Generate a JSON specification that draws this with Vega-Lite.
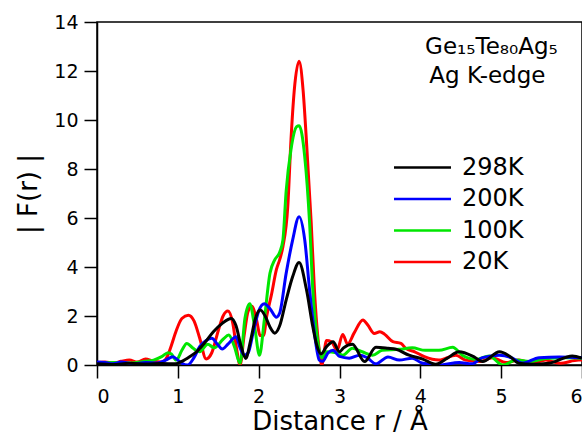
{
  "$schema": "https://vega.github.io/schema/vega-lite/v6.json",
  "autosize": {"type": "none"},
  "padding": {"left": 97, "top": 22, "right": 0, "bottom": 69},
  "width": 485,
  "height": 343,
  "background": "white",
  "config": {
    "font": "DejaVu Sans",
    "view": {"stroke": "black", "strokeWidth": 1.5},
    "axis": {"grid": false, "domainColor": "black", "domainWidth": 1.5, "tickColor": "black", "tickWidth": 1.5, "tickSize": 13, "labelColor": "black", "labelFontSize": 19, "labelFont": "DejaVu Sans", "titleFont": "DejaVu Sans", "titleFontSize": 26, "titleFontWeight": "normal", "titleColor": "black"},
    "legend": {"padding": 0}
  },
  "datasets": {
    "curves": [
      {"T":"20K","r":0.0,"v":0.1},{"T":"20K","r":0.1,"v":0.12},{"T":"20K","r":0.2,"v":0.08},{"T":"20K","r":0.3,"v":0.15},{"T":"20K","r":0.4,"v":0.2},{"T":"20K","r":0.5,"v":0.12},{"T":"20K","r":0.6,"v":0.25},{"T":"20K","r":0.7,"v":0.15},{"T":"20K","r":0.8,"v":0.12},{"T":"20K","r":0.87,"v":0.35},{"T":"20K","r":0.92,"v":0.8},{"T":"20K","r":0.98,"v":1.4},{"T":"20K","r":1.05,"v":1.9},{"T":"20K","r":1.13,"v":2.03},{"T":"20K","r":1.2,"v":1.8},{"T":"20K","r":1.27,"v":1.1},{"T":"20K","r":1.35,"v":0.25},{"T":"20K","r":1.42,"v":0.5},{"T":"20K","r":1.5,"v":1.4},{"T":"20K","r":1.56,"v":2.0},{"T":"20K","r":1.62,"v":2.2},{"T":"20K","r":1.68,"v":1.7},{"T":"20K","r":1.73,"v":0.6},{"T":"20K","r":1.77,"v":0.0},{"T":"20K","r":1.82,"v":1.2},{"T":"20K","r":1.87,"v":2.2},{"T":"20K","r":1.92,"v":2.4},{"T":"20K","r":1.97,"v":1.9},{"T":"20K","r":2.02,"v":1.2},{"T":"20K","r":2.06,"v":1.2},{"T":"20K","r":2.1,"v":2.0},{"T":"20K","r":2.16,"v":2.9},{"T":"20K","r":2.22,"v":3.9},{"T":"20K","r":2.26,"v":4.3},{"T":"20K","r":2.3,"v":4.83},{"T":"20K","r":2.36,"v":6.46},{"T":"20K","r":2.4,"v":9.2},{"T":"20K","r":2.44,"v":11.2},{"T":"20K","r":2.5,"v":12.4},{"T":"20K","r":2.55,"v":11.2},{"T":"20K","r":2.59,"v":9.2},{"T":"20K","r":2.65,"v":5.8},{"T":"20K","r":2.69,"v":3.06},{"T":"20K","r":2.75,"v":0.6},{"T":"20K","r":2.78,"v":0.0},{"T":"20K","r":2.84,"v":1.0},{"T":"20K","r":2.9,"v":0.95},{"T":"20K","r":2.97,"v":0.6},{"T":"20K","r":3.04,"v":1.25},{"T":"20K","r":3.1,"v":0.85},{"T":"20K","r":3.18,"v":1.3},{"T":"20K","r":3.29,"v":1.84},{"T":"20K","r":3.35,"v":1.63},{"T":"20K","r":3.43,"v":1.29},{"T":"20K","r":3.5,"v":1.36},{"T":"20K","r":3.56,"v":1.25},{"T":"20K","r":3.66,"v":0.95},{"T":"20K","r":3.76,"v":0.88},{"T":"20K","r":3.82,"v":0.68},{"T":"20K","r":3.93,"v":0.54},{"T":"20K","r":4.05,"v":0.34},{"T":"20K","r":4.23,"v":0.2},{"T":"20K","r":4.44,"v":0.4},{"T":"20K","r":4.56,"v":0.2},{"T":"20K","r":4.74,"v":0.14},{"T":"20K","r":4.89,"v":0.3},{"T":"20K","r":5.06,"v":0.1},{"T":"20K","r":5.22,"v":0.2},{"T":"20K","r":5.39,"v":0.07},{"T":"20K","r":5.55,"v":0.2},{"T":"20K","r":5.72,"v":0.07},{"T":"20K","r":5.96,"v":0.2},{"T":"20K","r":6.0,"v":0.2},

      {"T":"100K","r":0.0,"v":0.05},{"T":"100K","r":0.2,"v":0.1},{"T":"100K","r":0.4,"v":0.08},{"T":"100K","r":0.6,"v":0.15},{"T":"100K","r":0.7,"v":0.2},{"T":"100K","r":0.8,"v":0.34},{"T":"100K","r":0.88,"v":0.5},{"T":"100K","r":0.92,"v":0.45},{"T":"100K","r":0.98,"v":0.2},{"T":"100K","r":1.05,"v":0.6},{"T":"100K","r":1.11,"v":0.88},{"T":"100K","r":1.19,"v":0.68},{"T":"100K","r":1.27,"v":0.54},{"T":"100K","r":1.37,"v":0.85},{"T":"100K","r":1.45,"v":0.7},{"T":"100K","r":1.56,"v":1.05},{"T":"100K","r":1.63,"v":1.22},{"T":"100K","r":1.7,"v":0.75},{"T":"100K","r":1.77,"v":0.07},{"T":"100K","r":1.83,"v":1.9},{"T":"100K","r":1.89,"v":2.5},{"T":"100K","r":1.95,"v":1.56},{"T":"100K","r":2.01,"v":0.4},{"T":"100K","r":2.07,"v":1.84},{"T":"100K","r":2.14,"v":3.75},{"T":"100K","r":2.2,"v":4.3},{"T":"100K","r":2.26,"v":4.6},{"T":"100K","r":2.3,"v":5.1},{"T":"100K","r":2.34,"v":7.1},{"T":"100K","r":2.4,"v":8.8},{"T":"100K","r":2.47,"v":9.73},{"T":"100K","r":2.5,"v":9.77},{"T":"100K","r":2.57,"v":8.5},{"T":"100K","r":2.63,"v":5.8},{"T":"100K","r":2.67,"v":3.06},{"T":"100K","r":2.73,"v":1.0},{"T":"100K","r":2.78,"v":0.3},{"T":"100K","r":2.84,"v":0.54},{"T":"100K","r":2.96,"v":0.5},{"T":"100K","r":3.04,"v":0.4},{"T":"100K","r":3.16,"v":0.68},{"T":"100K","r":3.28,"v":0.54},{"T":"100K","r":3.41,"v":0.4},{"T":"100K","r":3.53,"v":0.6},{"T":"100K","r":3.74,"v":0.64},{"T":"100K","r":3.9,"v":0.7},{"T":"100K","r":4.06,"v":0.6},{"T":"100K","r":4.23,"v":0.6},{"T":"100K","r":4.4,"v":0.72},{"T":"100K","r":4.52,"v":0.4},{"T":"100K","r":4.69,"v":0.23},{"T":"100K","r":4.85,"v":0.37},{"T":"100K","r":5.02,"v":0.0},{"T":"100K","r":5.19,"v":0.2},{"T":"100K","r":5.35,"v":0.14},{"T":"100K","r":5.55,"v":0.27},{"T":"100K","r":5.8,"v":0.3},{"T":"100K","r":6.0,"v":0.28},

      {"T":"200K","r":0.0,"v":0.12},{"T":"200K","r":0.1,"v":0.1},{"T":"200K","r":0.2,"v":0.05},{"T":"200K","r":0.3,"v":0.12},{"T":"200K","r":0.45,"v":0.05},{"T":"200K","r":0.6,"v":0.1},{"T":"200K","r":0.75,"v":0.08},{"T":"200K","r":0.85,"v":0.2},{"T":"200K","r":0.94,"v":0.34},{"T":"200K","r":1.0,"v":0.2},{"T":"200K","r":1.05,"v":0.07},{"T":"200K","r":1.12,"v":0.0},{"T":"200K","r":1.2,"v":0.3},{"T":"200K","r":1.27,"v":0.75},{"T":"200K","r":1.35,"v":1.0},{"T":"200K","r":1.42,"v":1.09},{"T":"200K","r":1.49,"v":0.85},{"T":"200K","r":1.55,"v":0.65},{"T":"200K","r":1.62,"v":0.85},{"T":"200K","r":1.72,"v":1.15},{"T":"200K","r":1.77,"v":0.7},{"T":"200K","r":1.82,"v":0.4},{"T":"200K","r":1.87,"v":0.5},{"T":"200K","r":1.93,"v":1.3},{"T":"200K","r":2.0,"v":2.2},{"T":"200K","r":2.07,"v":2.5},{"T":"200K","r":2.14,"v":2.3},{"T":"200K","r":2.22,"v":1.95},{"T":"200K","r":2.26,"v":2.12},{"T":"200K","r":2.34,"v":3.74},{"T":"200K","r":2.42,"v":5.1},{"T":"200K","r":2.5,"v":6.05},{"T":"200K","r":2.57,"v":5.1},{"T":"200K","r":2.63,"v":3.06},{"T":"200K","r":2.69,"v":1.3},{"T":"200K","r":2.75,"v":0.2},{"T":"200K","r":2.79,"v":0.15},{"T":"200K","r":2.86,"v":0.5},{"T":"200K","r":2.92,"v":0.6},{"T":"200K","r":3.0,"v":0.35},{"T":"200K","r":3.12,"v":0.28},{"T":"200K","r":3.25,"v":0.4},{"T":"200K","r":3.34,"v":0.3},{"T":"200K","r":3.45,"v":0.05},{"T":"200K","r":3.6,"v":0.33},{"T":"200K","r":3.74,"v":0.2},{"T":"200K","r":3.9,"v":0.28},{"T":"200K","r":4.02,"v":0.08},{"T":"200K","r":4.23,"v":0.0},{"T":"200K","r":4.48,"v":0.1},{"T":"200K","r":4.64,"v":0.05},{"T":"200K","r":4.77,"v":0.3},{"T":"200K","r":4.98,"v":0.4},{"T":"200K","r":5.14,"v":0.28},{"T":"200K","r":5.26,"v":0.08},{"T":"200K","r":5.47,"v":0.3},{"T":"200K","r":5.72,"v":0.33},{"T":"200K","r":6.0,"v":0.3},

      {"T":"298K","r":0.0,"v":0.05},{"T":"298K","r":0.2,"v":0.02},{"T":"298K","r":0.4,"v":0.07},{"T":"298K","r":0.6,"v":0.04},{"T":"298K","r":0.8,"v":0.06},{"T":"298K","r":0.97,"v":0.05},{"T":"298K","r":1.05,"v":0.15},{"T":"298K","r":1.15,"v":0.35},{"T":"298K","r":1.23,"v":0.54},{"T":"298K","r":1.33,"v":0.9},{"T":"298K","r":1.44,"v":1.36},{"T":"298K","r":1.55,"v":1.7},{"T":"298K","r":1.66,"v":1.9},{"T":"298K","r":1.72,"v":1.6},{"T":"298K","r":1.78,"v":0.8},{"T":"298K","r":1.84,"v":0.27},{"T":"298K","r":1.9,"v":1.0},{"T":"298K","r":1.96,"v":1.9},{"T":"298K","r":2.02,"v":2.24},{"T":"298K","r":2.08,"v":2.0},{"T":"298K","r":2.14,"v":1.55},{"T":"298K","r":2.2,"v":1.3},{"T":"298K","r":2.26,"v":1.6},{"T":"298K","r":2.34,"v":2.65},{"T":"298K","r":2.42,"v":3.6},{"T":"298K","r":2.5,"v":4.18},{"T":"298K","r":2.59,"v":3.1},{"T":"298K","r":2.67,"v":1.56},{"T":"298K","r":2.72,"v":0.8},{"T":"298K","r":2.77,"v":0.45},{"T":"298K","r":2.84,"v":0.75},{"T":"298K","r":2.92,"v":0.95},{"T":"298K","r":3.0,"v":0.54},{"T":"298K","r":3.05,"v":0.7},{"T":"298K","r":3.16,"v":0.85},{"T":"298K","r":3.31,"v":0.14},{"T":"298K","r":3.45,"v":0.72},{"T":"298K","r":3.6,"v":0.68},{"T":"298K","r":3.7,"v":0.64},{"T":"298K","r":3.86,"v":0.4},{"T":"298K","r":4.03,"v":0.24},{"T":"298K","r":4.19,"v":0.03},{"T":"298K","r":4.33,"v":0.27},{"T":"298K","r":4.48,"v":0.54},{"T":"298K","r":4.66,"v":0.34},{"T":"298K","r":4.77,"v":0.14},{"T":"298K","r":4.98,"v":0.54},{"T":"298K","r":5.1,"v":0.37},{"T":"298K","r":5.22,"v":0.07},{"T":"298K","r":5.39,"v":0.03},{"T":"298K","r":5.59,"v":0.07},{"T":"298K","r":5.88,"v":0.37},{"T":"298K","r":6.0,"v":0.28}
    ],
    "notes": [
      {"label": "Ge₁₅Te₈₀Ag₅", "r": 4.88, "v": 12.7},
      {"label": "Ag K-edge", "r": 4.83, "v": 11.5}
    ]
  },
  "layer": [
    {
      "data": {"name": "curves"},
      "mark": {"type": "line", "strokeWidth": 3, "interpolate": "monotone", "clip": true},
      "encoding": {
        "x": {"field": "r", "type": "quantitative", "scale": {"domain": [0, 6], "nice": false, "zero": false},
              "axis": {"values": [0,1,2,3,4,5,6], "format": "d", "labelPadding": 9, "title": "Distance  r  /  Å", "titlePadding": 2}},
        "y": {"field": "v", "type": "quantitative", "scale": {"domain": [0, 14], "nice": false},
              "axis": {"values": [0,2,4,6,8,10,12,14], "format": "d", "labelPadding": 6, "title": "| F(r) |", "titlePadding": 12}},
        "color": {"field": "T", "type": "nominal",
                  "scale": {"domain": ["298K","200K","100K","20K"], "range": ["#000000","#0000ff","#00e600","#ff0000"]},
                  "legend": {"title": null, "orient": "none", "legendX": 310, "legendY": 130, "symbolType": "M-2,0H2", "symbolSize": 812, "symbolStrokeWidth": 2.5, "symbolFillColor": "transparent", "labelFontSize": 24, "labelFont": "DejaVu Sans", "labelColor": "black", "labelOffset": 24, "rowPadding": 3.5}}
      }
    },
    {
      "data": {"name": "notes"},
      "mark": {"type": "text", "fontSize": 23, "align": "center", "baseline": "alphabetic", "font": "DejaVu Sans", "color": "black"},
      "encoding": {
        "x": {"field": "r", "type": "quantitative"},
        "y": {"field": "v", "type": "quantitative"},
        "text": {"field": "label"}
      }
    }
  ]
}
